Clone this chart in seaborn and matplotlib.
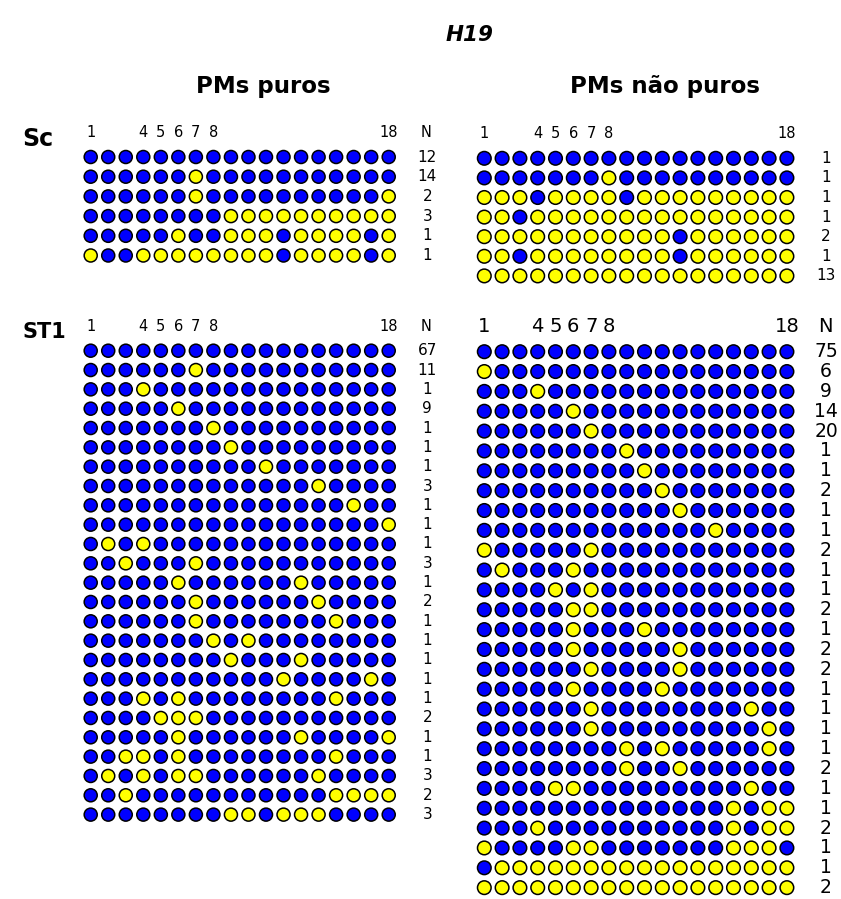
import matplotlib
matplotlib.use("Agg")
import matplotlib.pyplot as plt
import seaborn as sns
import pandas as pd

sns.set_theme(style="white")
plt.rcParams["font.family"] = ["DejaVu Sans"]
plt.rcParams["text.color"] = "black"

# CpG sites 1..18; '1' = methylated (blue), '0' = unmethylated (yellow)
sc_pure_patterns = [
    "111111111111111111",
    "111111011111111111",
    "111111011111111110",
    "111111110000000000",
    "111110110001000010",
    "011000000001000010",
]
sc_pure_n = [12, 14, 2, 3, 1, 1]

sc_impure_patterns = [
    "111111111111111111",
    "111111101111111111",
    "000100001000000000",
    "001000000000000000",
    "000000000001000000",
    "001000000001000000",
    "000000000000000000",
]
sc_impure_n = [1, 1, 1, 1, 2, 1, 13]

st1_pure_patterns = [
    "111111111111111111",
    "111111011111111111",
    "111011111111111111",
    "111110111111111111",
    "111111101111111111",
    "111111110111111111",
    "111111111101111111",
    "111111111111101111",
    "111111111111111011",
    "111111111111111110",
    "101011111111111111",
    "110111011111111111",
    "111110111111011111",
    "111111011111101111",
    "111111011111110111",
    "111111101011111111",
    "111111110111011111",
    "111111111110111101",
    "111010111111110111",
    "111100011111111111",
    "111110111111011110",
    "110010111111110111",
    "101010011111101111",
    "110111111111110000",
    "111111110010001111",
]
st1_pure_n = [67, 11, 1, 9, 1, 1, 1, 3, 1, 1, 1, 3, 1, 2, 1, 1, 1, 1, 1, 2,
              1, 1, 3, 2, 3]

st1_impure_patterns = [
    "111111111111111111",
    "011111111111111111",
    "111011111111111111",
    "111110111111111111",
    "111111011111111111",
    "111111110111111111",
    "111111111011111111",
    "111111111101111111",
    "111111111110111111",
    "111111111111101111",
    "011111011111111111",
    "101110111111111111",
    "111101011111111111",
    "111110011111111111",
    "111110111011111111",
    "111110111110111111",
    "111111011110111111",
    "111110111101111111",
    "111111011111111011",
    "111111011111111101",
    "111111110101111101",
    "111111110110111111",
    "111100111111111011",
    "111111111111110100",
    "111011111111110100",
    "011110011111110001",
    "100000000000000000",
    "000000000000000000",
]
st1_impure_n = [75, 6, 9, 14, 20, 1, 1, 2, 1, 1, 2, 1, 1, 2, 1, 2, 2, 1, 1, 1,
                1, 2, 1, 1, 2, 1, 1, 2]

header_sites = ["1", "4", "5", "6", "7", "8", "18"]

palette = {"1": "#0000FF", "0": "#FFFF00"}

W, H = 841, 899
fig = plt.figure(figsize=(W / 100, H / 100), dpi=100)


def panel(patterns, counts, x1, dx, y1, dy, size, num_fs, show_n_header,
          head_fs):
    nrows = len(patterns)
    ncols = len(patterns[0])
    left = (x1 - dx / 2) / W
    top = y1 - dy / 2
    height = nrows * dy
    ax = fig.add_axes([left, 1 - (top + height) / H, ncols * dx / W, height / H])
    df = pd.DataFrame(
        [(c + 1, r + 1, s) for r, p in enumerate(patterns) for c, s in enumerate(p)],
        columns=["site", "row", "state"],
    )
    sns.scatterplot(data=df, x="site", y="row", hue="state", palette=palette,
                    s=size, edgecolor="black", linewidth=1.1, legend=False,
                    ax=ax, clip_on=False, zorder=3)
    ax.set_xlim(0.5, ncols + 0.5)
    ax.set_ylim(nrows + 0.5, 0.5)
    ax.axis("off")
    for r, n in enumerate(counts):
        ax.text(20.2, r + 1, str(n), ha="center", va="center",
                fontsize=num_fs, color="black")
    for lab in header_sites:
        ax.text(int(lab), -0.25, lab, ha="center", va="center",
                fontsize=head_fs, color="black")
    if show_n_header:
        ax.text(20.15, -0.25, "N", ha="center", va="center",
                fontsize=head_fs, color="black")
    return ax


panel(sc_pure_patterns, sc_pure_n, 90.7, 17.53, 157.0, 19.7, 88, 11, True, 10.5)
panel(sc_impure_patterns, sc_impure_n, 484.3, 17.8, 158.3, 19.6, 96, 11, False, 10.5)
panel(st1_pure_patterns, st1_pure_n, 90.7, 17.53, 350.7, 19.33, 88, 11, True, 10.5)
panel(st1_impure_patterns, st1_impure_n, 484.3, 17.8, 351.7, 19.85, 96, 13.5, True, 14)

fig.text(470 / W, 1 - 35 / H, "H19", ha="center", va="center", fontsize=15.5,
         fontweight="bold", fontstyle="italic")
fig.text(263 / W, 1 - 87 / H, "PMs puros", ha="center", va="center",
         fontsize=16.5, fontweight="bold")
fig.text(665 / W, 1 - 87 / H, "PMs não puros", ha="center", va="center",
         fontsize=16.5, fontweight="bold")
fig.text(22 / W, 1 - 139 / H, "Sc", ha="left", va="center", fontsize=17,
         fontweight="bold")
fig.text(22 / W, 1 - 332 / H, "ST1", ha="left", va="center", fontsize=15,
         fontweight="bold")

fig.savefig("out.png", dpi=100, facecolor="white")
